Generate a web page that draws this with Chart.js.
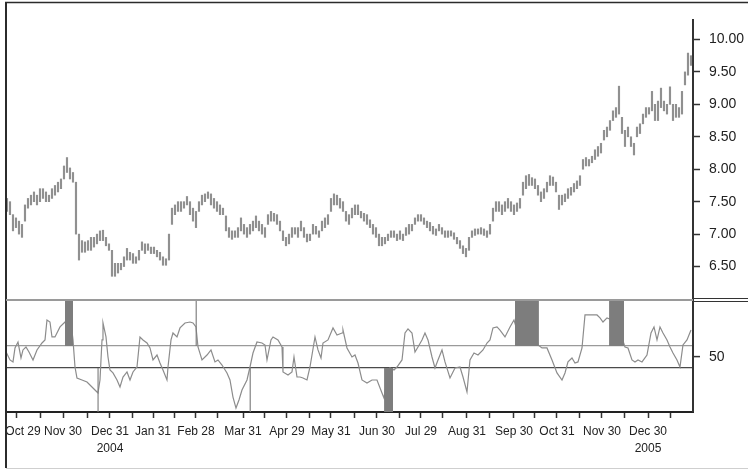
<!DOCTYPE html>
<html>
<head>
<meta charset="utf-8">
<script src="https://cdn.jsdelivr.net/npm/chart.js@4.4.1/dist/chart.umd.min.js"></script>
<style>
  html, body { margin: 0; padding: 0; background: #fff; }
  #wrap { position: relative; width: 748px; height: 469px; overflow: hidden; }
  #chart { position: absolute; left: -30px; top: 0; }
</style>
</head>
<body>
<div id="wrap"><canvas id="chart" width="778" height="469"></canvas></div>
<script>
// daily price bars, one entry per session (low / high)
const priceLow = [
  7.35, 7.3, 7.05, 7.1, 7.0, 6.95, 7.2, 7.4, 7.45, 7.5,
  7.45, 7.5, 7.55, 7.5, 7.5, 7.55, 7.6, 7.65, 7.7, 7.85,
  7.95, 7.85, 7.8, 7.0, 6.6, 6.72, 6.72, 6.75, 6.75, 6.8,
  6.85, 6.9, 6.9, 6.82, 6.75, 6.35, 6.35, 6.4, 6.45, 6.5,
  6.6, 6.6, 6.55, 6.55, 6.6, 6.75, 6.7, 6.75, 6.7, 6.7,
  6.65, 6.6, 6.52, 6.52, 6.6, 7.15, 7.3, 7.35, 7.35, 7.4,
  7.45, 7.3, 7.2, 7.1, 7.35, 7.45, 7.5, 7.55, 7.45, 7.4,
  7.35, 7.3, 7.3, 7.05, 6.95, 6.92, 6.95, 6.95, 7.05, 7.0,
  6.95, 7.0, 7.05, 7.1, 7.05, 7.0, 6.95, 7.15, 7.2, 7.2,
  7.15, 7.05, 6.9, 6.82, 6.85, 6.95, 7.0, 6.95, 7.05, 6.95,
  6.88, 6.9, 7.0, 7.0, 6.95, 7.05, 7.1, 7.15, 7.35, 7.45,
  7.45, 7.4, 7.35, 7.2, 7.15, 7.25, 7.3, 7.3, 7.25, 7.2,
  7.15, 7.1, 7.0, 6.95, 6.82, 6.82, 6.85, 6.9, 6.95, 6.95,
  6.9, 6.92, 6.9, 6.98, 7.0, 7.05, 7.15, 7.2, 7.2, 7.15,
  7.1, 7.05, 7.0, 6.98, 7.05, 7.0, 6.95, 6.95, 6.97, 6.92,
  6.85, 6.78, 6.7, 6.65, 6.75, 6.95, 6.98, 7.0, 7.0, 6.98,
  6.95, 7.0, 7.2, 7.35, 7.35, 7.3, 7.35, 7.4, 7.35, 7.3,
  7.35, 7.4, 7.6, 7.7, 7.75, 7.75, 7.7, 7.6, 7.5, 7.55,
  7.65, 7.75, 7.75, 7.65, 7.38, 7.45, 7.5, 7.55, 7.6, 7.65,
  7.7, 7.75, 8.0, 8.05, 8.05, 8.1, 8.15, 8.2, 8.25, 8.45,
  8.5, 8.6, 8.75, 8.8, 8.85, 8.55, 8.35, 8.5, 8.35, 8.22,
  8.5, 8.55, 8.7, 8.8, 8.85, 8.9, 8.75, 8.75, 8.95, 8.9,
  8.85, 9.0, 8.75, 8.8, 8.8, 8.85, 9.3, 9.45, 9.6
];
const priceHigh = [
  7.55, 7.5, 7.3, 7.25, 7.2, 7.15, 7.45, 7.55, 7.6, 7.65,
  7.6, 7.7, 7.7, 7.65, 7.6, 7.7, 7.75, 7.8, 7.85, 8.05,
  8.18, 8.02, 7.95, 7.8, 7.0, 6.9, 6.88, 6.9, 6.95, 6.95,
  7.0, 7.05, 7.06, 6.95, 6.85, 6.75, 6.55, 6.55, 6.55, 6.65,
  6.78, 6.72, 6.7, 6.65, 6.75, 6.88, 6.85, 6.85, 6.8, 6.8,
  6.75, 6.72, 6.65, 6.62, 7.0, 7.4, 7.45, 7.5, 7.5, 7.5,
  7.58, 7.5, 7.4, 7.35, 7.5, 7.6, 7.62, 7.65, 7.62, 7.55,
  7.5, 7.45, 7.4, 7.28, 7.1, 7.05, 7.05, 7.1, 7.25, 7.15,
  7.1, 7.15, 7.2, 7.28, 7.2, 7.15, 7.1, 7.3, 7.35, 7.32,
  7.3, 7.2, 7.05, 6.95, 7.0, 7.1, 7.1, 7.1, 7.2, 7.1,
  7.0, 7.0, 7.15, 7.12, 7.05, 7.2, 7.25, 7.3, 7.55, 7.62,
  7.6, 7.55, 7.5, 7.35, 7.3, 7.4, 7.45, 7.45, 7.35, 7.32,
  7.3, 7.22, 7.15, 7.1, 7.0, 6.95, 6.95, 7.0, 7.05, 7.05,
  7.0, 7.05, 7.0, 7.1, 7.15, 7.15, 7.25, 7.3, 7.3, 7.25,
  7.2, 7.18, 7.12, 7.08, 7.15, 7.1, 7.05, 7.05, 7.05, 7.02,
  6.95, 6.9, 6.82, 6.78, 6.95, 7.05, 7.08, 7.08, 7.1, 7.08,
  7.05, 7.15, 7.4, 7.5, 7.5, 7.45, 7.5, 7.55, 7.5, 7.45,
  7.48, 7.55, 7.8, 7.9, 7.92, 7.87, 7.85, 7.75, 7.65, 7.7,
  7.8, 7.9, 7.88, 7.8, 7.6, 7.6, 7.62, 7.7, 7.72, 7.78,
  7.82, 7.9, 8.15, 8.18, 8.15, 8.2, 8.3, 8.35, 8.4, 8.6,
  8.65, 8.75, 8.9, 8.95, 9.28, 8.8, 8.6, 8.65, 8.5, 8.4,
  8.65, 8.7, 8.85, 8.95, 8.95, 9.2, 9.0, 9.05, 9.25, 9.05,
  9.0, 9.27, 9.0, 9.0, 8.95, 9.2, 9.5, 9.79, 9.75
];
const priceTicks = [6.5, 7.0, 7.5, 8.0, 8.5, 9.0, 9.5, 10.0];

// oscillator readings (session position, value)
const oscPos = [
  -0.3, 1, 2, 2.67, 3.67, 4.67, 5.33, 6.33, 7.33, 8.67,
  10, 11.67, 12.67, 13.33, 14.33, 15, 16, 17.67, 19.33, 20.33,
  21.33, 22, 22.67, 23.33, 25, 26.67, 28.33, 30, 30.33, 31,
  31.67, 32, 33, 33.67, 34.33, 35.33, 36.67, 37.67, 38.67, 40,
  41, 42, 43.33, 44.33, 45.33, 46.67, 47.67, 48.67, 50, 51,
  52, 53.33, 53.67, 54.67, 55.33, 56.67, 57.67, 59.33, 61, 62,
  63, 63.67, 65, 66.67, 68, 69.33, 70.33, 71.67, 73.33, 74.33,
  75.33, 76.33, 77.33, 78.33, 80, 81, 82, 83.33, 85, 86,
  86.67, 88, 88.67, 90.33, 91.67, 92, 93.67, 95, 95.67, 96.67,
  97.67, 98.67, 100, 101, 102.67, 103.67, 104.67, 105.33, 107, 108.67,
  110, 111.67, 112, 113.33, 115, 116, 117, 118.33, 120, 121.67,
  123.33, 125, 125.67, 126.67, 127.67, 129, 130, 131.67, 132.67, 133.67,
  135, 136, 137, 138.33, 139.33, 140.33, 141.67, 142.67, 143.67, 145,
  146, 147.67, 149.33, 151, 152, 153.33, 154.33, 155.67, 157, 158.67,
  160, 161, 162, 163.33, 164.33, 166, 167.67, 169, 170, 171,
  172, 173.33, 174.67, 176, 177, 178.33, 180, 181.67, 183.33, 185,
  186, 187, 188.33, 189.33, 190.33, 191.67, 192.67, 194.33, 196.67, 197.67,
  198.67, 200, 201.67, 202.67, 203.67, 205, 206, 207, 208.33, 209.33,
  210.33, 211.67, 213.33, 214.67, 215.67, 216.67, 217.67, 218.67, 220, 221,
  222, 223.33, 224.33, 225.33, 226.67, 228
];
const oscVal = [
  54.5, 47.3, 45.5, 58.2, 63.6, 49.1, 56.4, 59.1, 54.5, 47.3,
  56.4, 62.7, 65.5, 83.6, 81.8, 68.2, 68.2, 77.3, 81.8, 76.4,
  80.9, 65.5, 40.9, 30.9, 29.1, 27.3, 22.7, 18.2, 17.3, 29.1,
  65.5, 80.9, 68.2, 50, 38.2, 35.5, 29.1, 22.7, 31.8, 36.4,
  29.1, 36.4, 40.9, 68.2, 65.5, 62.7, 58.2, 47.3, 51.8, 44.5,
  38.2, 29.1, 40.9, 65.5, 71.8, 68.2, 76.4, 80.9, 81.8, 80.9,
  77.3, 59.1, 47.3, 51.8, 56.4, 45.5, 47.3, 42.7, 35.5, 29.1,
  13.6, 3.6, 10.9, 20, 29.1, 40.9, 53.6, 63.6, 62.7, 60.9,
  47.3, 65.5, 68.2, 65.5, 59.1, 36.4, 33.6, 36.4, 50, 31.8,
  31.8, 30.9, 29.1, 40.9, 68.2, 56.4, 49.1, 62.7, 65.5, 76.4,
  70, 71.8, 74.5, 58.2, 50, 51.8, 44.5, 29.1, 26.4, 29.1,
  29.1, 17.3, 12.7, 29.1, 40, 38.2, 40.9, 47.3, 71.8, 75.5,
  71.8, 54.5, 59.1, 65.5, 71.8, 65.5, 50, 40, 47.3, 56.4,
  45.5, 30.9, 40, 40.9, 31.8, 18.2, 47.3, 53.6, 51.8, 56.4,
  62.7, 65.5, 76.4, 77.3, 74.5, 68.2, 77.3, 83.6, 74.5, 65.5,
  71.8, 76.4, 80.9, 74.5, 60.9, 58.2, 58.2, 47.3, 35.5, 29.1,
  35.5, 45.5, 49.1, 44.5, 45.5, 58.2, 88.2, 88.2, 88.2, 85.5,
  81.8, 85.5, 83.6, 83.6, 77.3, 67.3, 59.1, 58.2, 47.3, 45.5,
  47.3, 45.5, 51.8, 71.8, 77.3, 65.5, 77.3, 71.8, 65.5, 59.1,
  53.6, 47.3, 40.9, 60.9, 65.5, 74.5
];
const oscLow = 40;
const oscHigh = 60;
const oscTop = 102.7;

// signal zones: start / end session and which side of the bands they sit on
const zoneFrom = [19.3, 30.1, 62.8, 80.8, 125.7, 169.3, 200.7];
const zoneTo = [22.0, 30.6, 63.3, 81.3, 128.7, 177.3, 205.7];
const zoneSide = ['high', 'low', 'high', 'low', 'low', 'high', 'high'];

// date axis
const monthPos = [3.33, 18.67, 34.33, 48.67, 63, 78.67, 93.33, 108, 123.33, 138, 153.33, 169, 183.33, 198.33, 213.67];
const monthText = ['Oct 29', 'Nov 30', 'Dec 31', 'Jan 31', 'Feb 28', 'Mar 31', 'Apr 29', 'May 31', 'Jun 30', 'Jul 29', 'Aug 31', 'Sep 30', 'Oct 31', 'Nov 30', 'Dec 30'];
const yearText = ['', '', '2004', '', '', '', '', '', '', '', '', '', '', '', '2005'];
const midPos = [11.33, 26.67, 41.67, 56, 70.33, 86, 100.67, 115.67, 130.67, 145.33, 161, 175.67, 190.67, 206, 221.33];

Chart.defaults.font.family = '"Liberation Sans", Arial, sans-serif';
Chart.defaults.color = '#222';

const bars = priceHigh.map((h, i) => ({ x: i, y: [priceLow[i], h] }));
const oscPoints = oscPos.map((x, k) => ({ x: x, y: oscVal[k] }));
const allTicks = monthPos.concat(midPos).sort((a, b) => a - b);

const zoneSets = zoneFrom.map((from, k) => {
    const high = zoneSide[k] === 'high';
    const edge = high ? oscTop : oscLow;
    return {
        type: 'line',
        yAxisID: 'yOsc',
        data: [{ x: from, y: edge }, { x: zoneTo[k], y: edge }],
        fill: { value: high ? oscHigh : 0 },
        backgroundColor: '#7d7d7d',
        borderWidth: 0,
        pointRadius: 0
    };
});

// outer rules, panel divider and the double rule beside the price axis
const panelFrame = {
    id: 'panelFrame',
    afterDraw(chart) {
        const { ctx, chartArea, width } = chart;
        const mid = chart.scales.yOsc.top + 1;
        ctx.save();
        ctx.strokeStyle = '#2b2b2b';
        ctx.lineWidth = 1.5;
        ctx.beginPath(); ctx.moveTo(chartArea.left - 1, 2.5); ctx.lineTo(width, 2.5); ctx.stroke();
        ctx.lineWidth = 2;
        ctx.beginPath(); ctx.moveTo(chartArea.left, 2); ctx.lineTo(chartArea.left, 468); ctx.stroke();
        ctx.strokeStyle = '#cfcfcf';
        ctx.lineWidth = 1;
        ctx.beginPath(); ctx.moveTo(chartArea.left, 468.5); ctx.lineTo(width, 468.5); ctx.stroke();
        ctx.strokeStyle = '#9a9a9a';
        ctx.lineWidth = 2;
        ctx.beginPath(); ctx.moveTo(chartArea.left, mid); ctx.lineTo(chartArea.right, mid); ctx.stroke();
        ctx.strokeStyle = '#333';
        ctx.lineWidth = 1;
        [mid - 1.5, mid + 1.5].forEach(y => {
            ctx.beginPath(); ctx.moveTo(chartArea.right, y); ctx.lineTo(width, y); ctx.stroke();
        });
        ctx.restore();
    }
};

new Chart(document.getElementById('chart'), {
    type: 'bar',
    data: {
        datasets: [
            {
                type: 'bar',
                data: bars,
                yAxisID: 'yPrice',
                backgroundColor: '#909090',
                barThickness: 1.5,
                borderWidth: 0
            },
            ...zoneSets,
            {
                type: 'line',
                data: oscPoints,
                yAxisID: 'yOsc',
                borderColor: '#8c8c8c',
                borderWidth: 1.2,
                pointRadius: 0,
                tension: 0,
                fill: false
            }
        ]
    },
    options: {
        responsive: false,
        devicePixelRatio: 1,
        animation: false,
        layout: { padding: { left: 36, top: 20, right: 0, bottom: 0 } },
        plugins: { legend: { display: false }, tooltip: { enabled: false } },
        scales: {
            x: {
                type: 'linear',
                min: -0.33,
                max: 228.67,
                offset: false,
                afterBuildTicks: scale => { scale.ticks = allTicks.map(v => ({ value: v })); },
                afterFit: scale => { scale.height = 57; },
                grid: { drawOnChartArea: false, offset: false, tickLength: 6, tickColor: '#333', tickWidth: 1.5 },
                border: { color: '#222', width: 2 },
                ticks: {
                    autoSkip: false,
                    maxRotation: 0,
                    padding: 5,
                    font: { size: 12, lineHeight: 1.4 },
                    callback: value => {
                        const k = monthPos.indexOf(value);
                        if (k < 0) return '';
                        const text = k === 0 ? '\u2002\u2002' + monthText[k] : monthText[k];
                        return yearText[k] ? [text, yearText[k]] : text;
                    }
                }
            },
            yPrice: {
                type: 'linear',
                position: 'right',
                stack: 'panels',
                stackWeight: 279,
                min: 6,
                max: 10.3,
                afterBuildTicks: scale => { scale.ticks = priceTicks.map(v => ({ value: v })); },
                afterFit: scale => { scale.width = 55; },
                grid: { drawOnChartArea: false, tickLength: 7, tickColor: '#333', tickWidth: 1.5 },
                border: { color: '#333', width: 2 },
                ticks: { padding: 9, font: { size: 14 }, callback: v => v.toFixed(2) }
            },
            yOsc: {
                type: 'linear',
                position: 'right',
                stack: 'panels',
                stackWeight: 113,
                min: 0,
                max: oscTop,
                afterBuildTicks: scale => { scale.ticks = [oscLow, 50, oscHigh].map(v => ({ value: v })); },
                afterFit: scale => { scale.width = 55; },
                grid: {
                    drawOnChartArea: true,
                    tickLength: 7,
                    tickWidth: 1.5,
                    lineWidth: 1.2,
                    color: c => c.tick.value === oscLow ? '#4a4a4a' : (c.tick.value === oscHigh ? '#9a9a9a' : 'transparent'),
                    tickColor: c => c.tick.value === 50 ? '#333' : 'transparent'
                },
                border: { color: '#333', width: 2 },
                ticks: { padding: 9, font: { size: 14 }, callback: v => v === 50 ? '50' : '' }
            }
        }
    },
    plugins: [panelFrame]
});
</script>
</body>
</html>
